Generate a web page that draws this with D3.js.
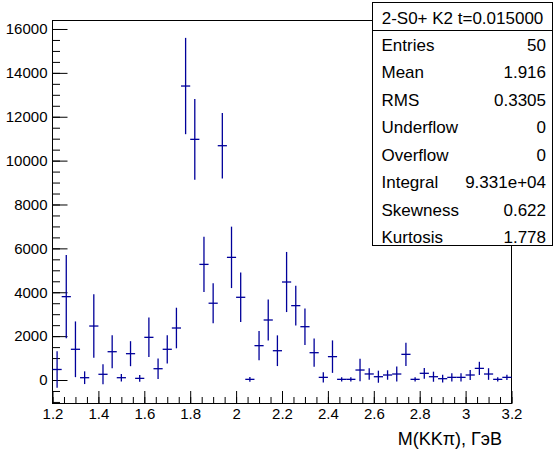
<!DOCTYPE html>
<html><head><meta charset="utf-8">
<script src="https://cdn.jsdelivr.net/npm/d3@7"></script>
<style>
body{margin:0;background:#fff;}
svg{display:block;font-family:"Liberation Sans",Arial,Helvetica,sans-serif;}
</style></head>
<body><svg id="c" width="553" height="450"></svg>
<script>
// ---- data ----
const binLow = 1.2, binHigh = 3.2, nBins = 50;
const counts = [480, 3800, 1400, 105, 2460, 260, 1290, 105, 1200, 75,
  1945, 515, 1400, 2370, 13400, 10970, 5270, 3500, 10680, 5590,
  3770, 30, 1565, 2735, 1335, 4467, 3390, 2430, 1245, 120,
  1065, 30, 30, 455, 275, 150, 228, 273, 1170, 30,
  305, 150, 60, 120, 120, 228, 530, 273, 30, 120];
const errors = [830, 1900, 1270, 290, 1445, 455, 750, 170, 570, 150,
  900, 470, 645, 925, 2195, 1840, 1260, 910, 1490, 1400,
  1130, 110, 670, 940, 700, 1370, 905, 835, 645, 230,
  740, 100, 100, 510, 265, 275, 215, 340, 530, 100,
  245, 230, 175, 190, 190, 230, 300, 265, 100, 120];
const xMajorTicks = [1.2, 1.4, 1.6, 1.8, 2, 2.2, 2.4, 2.6, 2.8, 3, 3.2];
const xTickLabels = ["1.2", "1.4", "1.6", "1.8", "2", "2.2", "2.4", "2.6", "2.8", "3", "3.2"];
const yMajorTicks = [0, 2000, 4000, 6000, 8000, 10000, 12000, 14000, 16000];
const yTickLabels = ["0", "2000", "4000", "6000", "8000", "10000", "12000", "14000", "16000"];
const statsTitle = "2-S0+ K2 t=0.015000";
const statsNames = ["Entries", "Mean", "RMS", "Underflow", "Overflow", "Integral", "Skewness", "Kurtosis"];
const statsValues = ["50", "1.916", "0.3305", "0", "0", "9.331e+04", "0.622", "1.778"];
const xTitle = "M(KKπ), ГэВ";

// ---- layout ----
const L = 52.5, R = 511.5, T = 20.5, B = 403.5;
const svg = d3.select("#c");
const x = d3.scaleLinear().domain([binLow, binHigh]).range([L, R]);
const y = d3.scaleLinear().domain([-1071, 16387]).range([B, T]);
const bw = (binHigh - binLow) / nBins;
const col = "#00009a";

// frame
svg.append("rect").attr("x", L).attr("y", T).attr("width", R - L).attr("height", B - T)
  .attr("fill", "none").attr("stroke", "#000").attr("stroke-width", 1);

// x axis minor
const xMinor = d3.range(0, 41).map(i => binLow + i * 0.05);
const gxm = svg.append("g").attr("transform", `translate(0,${B})`)
  .call(d3.axisBottom(x).tickValues(xMinor).tickSize(-6.5).tickFormat(""));
gxm.select(".domain").remove();
const gx = svg.append("g").attr("transform", `translate(0,${B})`)
  .call(d3.axisBottom(x).tickValues(xMajorTicks).tickSize(-12.5).tickPadding(5)
    .tickFormat((d, i) => xTickLabels[i]));
gx.select(".domain").remove();
gx.selectAll("text").attr("font-size", 15).attr("fill", "#000").attr("dy", "0.72em")
  .attr("font-family", "Liberation Sans, Arial, sans-serif");

// y axis minor
const yMinor = d3.range(-1000, 16500, 500);
const gym = svg.append("g").attr("transform", `translate(${L},0)`)
  .call(d3.axisLeft(y).tickValues(yMinor).tickSize(-7.5).tickFormat(""));
gym.select(".domain").remove();
const gy = svg.append("g").attr("transform", `translate(${L},0)`)
  .call(d3.axisLeft(y).tickValues(yMajorTicks).tickSize(-15).tickPadding(5)
    .tickFormat((d, i) => yTickLabels[i]));
gy.select(".domain").remove();
gy.selectAll("text").attr("font-size", 15).attr("fill", "#000")
  .attr("font-family", "Liberation Sans, Arial, sans-serif");
svg.selectAll(".tick line").attr("stroke", "#000");

// x title
svg.append("text").attr("x", 502).attr("y", 445).attr("text-anchor", "end")
  .attr("font-size", 18).text(xTitle);

// data error bars
const g = svg.append("g").attr("stroke", col).attr("stroke-width", 1.3).attr("fill", "none");
counts.forEach((v, i) => {
  const lo = binLow + i * bw, hi = lo + bw, c = lo + bw / 2;
  g.append("line").attr("x1", x(lo)).attr("x2", x(hi)).attr("y1", y(v)).attr("y2", y(v));
  g.append("line").attr("x1", x(c)).attr("x2", x(c)).attr("y1", y(v - errors[i])).attr("y2", y(v + errors[i]));
});

// stats box
const sx0 = 372.5, sx1 = 552.5, sy0 = 2.5, sy1 = 245.5, sep = 30.5;
svg.append("rect").attr("x", sx0).attr("y", sy0).attr("width", sx1 - sx0).attr("height", sy1 - sy0)
  .attr("fill", "#fff").attr("stroke", "#000");
svg.append("line").attr("x1", sx0).attr("x2", sx1).attr("y1", sep).attr("y2", sep).attr("stroke", "#000");
svg.append("text").attr("x", (sx0 + sx1) / 2).attr("y", 18.3).attr("dy", "0.35em")
  .attr("text-anchor", "middle").attr("font-size", 17).text(statsTitle);
const rowY = d3.scaleLinear().domain([0, statsNames.length - 1]).range([45, 237.5]);
statsNames.forEach((n, i) => {
  svg.append("text").attr("x", 381.5).attr("y", rowY(i)).attr("dy", "0.35em")
    .attr("font-size", 17).text(n);
  svg.append("text").attr("x", 546).attr("y", rowY(i)).attr("dy", "0.35em")
    .attr("text-anchor", "end").attr("font-size", 17).text(statsValues[i]);
});
</script></body></html>
